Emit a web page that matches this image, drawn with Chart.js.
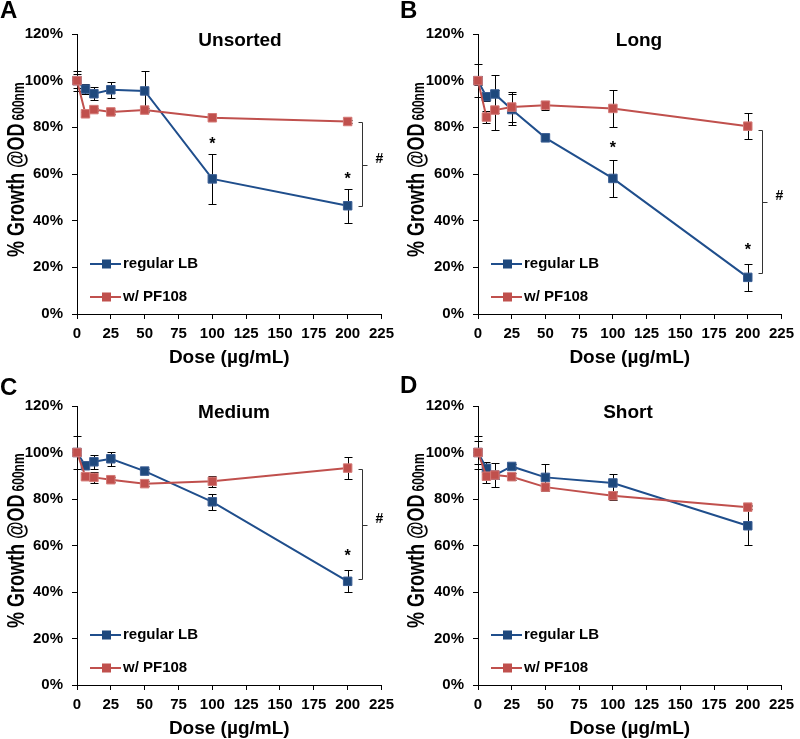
<!DOCTYPE html>
<html>
<head>
<meta charset="utf-8">
<script src="https://cdn.jsdelivr.net/npm/chart.js@4/dist/chart.umd.min.js"></script>
<style>
body { margin: 0; background: #fff; }
#wrap { position: relative; width: 800px; height: 739px; }
canvas { position: absolute; }
</style>
</head>
<body>
<div id="wrap">
<canvas id="cA" width="400" height="370" style="left:0;top:0"></canvas>
<canvas id="cB" width="400" height="370" style="left:400px;top:0"></canvas>
<canvas id="cC" width="400" height="369" style="left:0;top:370px"></canvas>
<canvas id="cD" width="400" height="369" style="left:400px;top:370px"></canvas>
</div>
<script>
// dose axis (ug/mL) shared by all panels
var doses = [0, 6.25, 12.5, 25, 50, 100, 200];
var xTicks = [0, 25, 50, 75, 100, 125, 150, 175, 200, 225];
var yTicks = [0, 20, 40, 60, 80, 100, 120];

// A - Unsorted
var lbA    = [100, 96.4, 94.4, 96.1, 95.6, 57.9, 46.4];
var lbErrA = [4.3, 2.3, 2.7, 3.4, 8.4, 10.6, 7.3];
var pfA    = [100, 85.8, 87.6, 86.6, 87.4, 84.1, 82.5];
var pfErrA = [3, 0.8, 0.8, 0.8, 0.8, 0.8, 0.8];
var starsA = [[100, 74.7], [200, 59.7]];
var bracketA = [82.5, 46.4];

// B - Long
var lbB    = [100, 93.1, 94.3, 87.6, 75.5, 58.1, 15.7];
var lbErrB = [7, 2, 8, 6.5, 1.5, 8, 5.7];
var pfB    = [100, 84.4, 87.4, 88.7, 89.5, 88.1, 80.5];
var pfErrB = [2, 2.5, 8.4, 6.5, 2, 8.1, 5.7];
var starsB = [[100, 73], [200, 29]];
var bracketB = [78.9, 17.4];

// C - Medium
var lbC    = [100, 94.3, 96, 97.3, 92, 78.8, 44.6];
var lbErrC = [7, 1.5, 3, 3, 1, 3.5, 4.7];
var pfC    = [100, 89.6, 89.3, 88.3, 86.6, 87.6, 93.3];
var pfErrC = [1, 1, 2.5, 1, 1, 2.5, 4.6];
var starsC = [[200, 57.4]];
var bracketC = [93, 45.5];

// D - Short
var lbD    = [100, 93.2, 90.3, 94, 89.3, 86.9, 68.5];
var lbErrD = [7, 2.5, 5, 1, 5.8, 4, 8.3];
var pfD    = [100, 89.8, 90.3, 89.6, 85.1, 81.4, 76.5];
var pfErrD = [5, 3, 1.5, 1.5, 1, 2, 1];
var starsD = [];
var bracketD = null;

var BLUE = "#1F4E8C";
var RED = "#C0504D";
var FONT = "'Liberation Sans', Arial, sans-serif";

function pts(vals) {
    return doses.map(function (d, i) { return { x: d, y: vals[i] }; });
}

function decoPlugin(p) {
    return {
        id: "deco",
        beforeDatasetsDraw: function (chart) {
            var ctx = chart.ctx, xs = chart.scales.x, ys = chart.scales.y;
            ctx.save();
            ctx.strokeStyle = "#000";
            ctx.lineWidth = 1;
            [[p.lb, p.lbErr], [p.pf, p.pfErr]].forEach(function (s) {
                doses.forEach(function (d, i) {
                    var x = Math.round(xs.getPixelForValue(d)) + 0.5;
                    var y1 = Math.round(ys.getPixelForValue(s[0][i] + s[1][i])) + 0.5;
                    var y2 = Math.round(ys.getPixelForValue(s[0][i] - s[1][i])) + 0.5;
                    ctx.beginPath();
                    ctx.moveTo(x, y1); ctx.lineTo(x, y2);
                    ctx.moveTo(x - 4, y1); ctx.lineTo(x + 4, y1);
                    ctx.moveTo(x - 4, y2); ctx.lineTo(x + 4, y2);
                    ctx.stroke();
                });
            });
            ctx.restore();
        },
        afterDraw: function (chart) {
            var ctx = chart.ctx, xs = chart.scales.x, ys = chart.scales.y;
            var a = chart.chartArea;
            ctx.save();
            ctx.fillStyle = "#000";

            // panel letter
            ctx.font = "bold 24px " + FONT;
            ctx.textAlign = "left";
            ctx.textBaseline = "alphabetic";
            ctx.fillText(p.letter, 0, p.letterY);

            // panel title
            ctx.font = "bold 19px " + FONT;
            ctx.textAlign = "center";
            ctx.fillText(p.title, p.titleX, a.top + 12);

            // x axis title
            ctx.font = "bold 19px " + FONT;
            ctx.fillText("Dose (\u00b5g/mL)", (a.left + a.right) / 2, a.bottom + 49);

            // y axis title with subscript (glyphs a bit taller, as in the source)
            ctx.save();
            ctx.translate(24, a.bottom - 57);
            ctx.scale(1.35, 1);
            ctx.rotate(-Math.PI / 2);
            ctx.textAlign = "left";
            ctx.font = "bold 18px " + FONT;
            var main = "% Growth @OD";
            ctx.fillText(main, 0, 0);
            var w = ctx.measureText(main).width;
            ctx.font = "bold 12px " + FONT;
            ctx.fillText("600nm", w + 3, 0);
            ctx.restore();

            // legend
            var items = [["regular LB", BLUE, "#1F497D", 50], ["w/ PF108", RED, "#C0504D", 17]];
            items.forEach(function (it) {
                var y = a.bottom - it[3];
                ctx.strokeStyle = it[1];
                ctx.lineWidth = 2;
                ctx.beginPath();
                ctx.moveTo(a.left + 13, y); ctx.lineTo(a.left + 44, y);
                ctx.stroke();
                ctx.fillStyle = it[2];
                ctx.fillRect(a.left + 25, y - 4.5, 9, 9);
                ctx.fillStyle = "#000";
                ctx.font = "bold 15px " + FONT;
                ctx.textAlign = "left";
                ctx.textBaseline = "middle";
                ctx.fillText(it[0], a.left + 46, y);
            });

            // significance stars
            ctx.textAlign = "center";
            ctx.textBaseline = "alphabetic";
            ctx.font = "bold 16px " + FONT;
            p.stars.forEach(function (s) {
                ctx.fillText("*", xs.getPixelForValue(s[0]), ys.getPixelForValue(s[1]) + 9);
            });

            // bracket with #
            if (p.bracket) {
                var bx = Math.round(xs.getPixelForValue(210.5)) + 0.5;
                var yt = Math.round(ys.getPixelForValue(p.bracket[0])) + 0.5;
                var yb = Math.round(ys.getPixelForValue(p.bracket[1])) + 0.5;
                var ym = Math.round((yt + yb) / 2) + 0.5;
                ctx.strokeStyle = "#333";
                ctx.lineWidth = 1;
                ctx.beginPath();
                ctx.moveTo(bx - 4, yt); ctx.lineTo(bx, yt); ctx.lineTo(bx, yb); ctx.lineTo(bx - 4, yb);
                ctx.moveTo(bx, ym); ctx.lineTo(bx + 5, ym);
                ctx.stroke();
                ctx.font = "bold 14px " + FONT;
                ctx.textAlign = "center";
                ctx.fillText("#", bx + 17, ym - 3);
            }
            ctx.restore();
        }
    };
}

function makePanel(id, p) {
    var canvas = document.getElementById(id);
    var H = canvas.height;
    return new Chart(canvas, {
        type: "line",
        data: {
            datasets: [{
                label: "regular LB",
                data: pts(p.lb),
                order: 1,
                borderColor: BLUE,
                borderWidth: 2,
                backgroundColor: "#1F497D",
                pointStyle: "rect",
                pointRadius: 6,
                pointBorderWidth: 1,
                pointBorderColor: "#3B5E94",
                pointBackgroundColor: "#1F497D",
                tension: 0,
                clip: false
            }, {
                label: "w/ PF108",
                data: pts(p.pf),
                order: 0,
                borderColor: RED,
                borderWidth: 2,
                backgroundColor: RED,
                pointStyle: "rect",
                pointRadius: 6,
                pointBorderWidth: 1,
                pointBorderColor: "#D47A77",
                pointBackgroundColor: RED,
                tension: 0,
                clip: false
            }]
        },
        options: {
            responsive: false,
            animation: false,
            layout: {
                padding: { left: 0, right: 400 - p.right, top: p.top, bottom: 0 }
            },
            plugins: {
                legend: { display: false },
                tooltip: { enabled: false }
            },
            scales: {
                x: {
                    type: "linear",
                    min: 0,
                    max: 225,
                    afterFit: function (s) { s.height = H - p.bottom; },
                    afterBuildTicks: function (s) { s.ticks = xTicks.map(function (v) { return { value: v }; }); },
                    grid: { display: true, drawOnChartArea: false, drawTicks: true, tickLength: 5, color: "#000" },
                    border: { display: true, color: "#000", width: 1 },
                    ticks: {
                        autoSkip: false,
                        maxRotation: 0,
                        padding: 6,
                        color: "#000",
                        font: { size: 15, weight: "bold", family: FONT }
                    }
                },
                y: {
                    min: 0,
                    max: 120,
                    afterFit: function (s) { s.width = p.left; },
                    afterBuildTicks: function (s) { s.ticks = yTicks.map(function (v) { return { value: v }; }); },
                    grid: { display: true, drawOnChartArea: false, drawTicks: true, tickLength: 5, color: "#000" },
                    border: { display: true, color: "#000", width: 1 },
                    ticks: {
                        padding: 9,
                        color: "#000",
                        font: { size: 15, weight: "bold", family: FONT },
                        callback: function (v) { return v + "%"; }
                    }
                }
            }
        },
        plugins: [decoPlugin(p)]
    });
}

makePanel("cA", { lb: lbA, lbErr: lbErrA, pf: pfA, pfErr: pfErrA, stars: starsA, bracket: bracketA,
    title: "Unsorted", titleX: 240, letter: "A", letterY: 18, left: 77, right: 386, top: 34, bottom: 314 });
makePanel("cB", { lb: lbB, lbErr: lbErrB, pf: pfB, pfErr: pfErrB, stars: starsB, bracket: bracketB,
    title: "Long", titleX: 239, letter: "B", letterY: 18, left: 78, right: 387, top: 34, bottom: 314 });
makePanel("cC", { lb: lbC, lbErr: lbErrC, pf: pfC, pfErr: pfErrC, stars: starsC, bracket: bracketC,
    title: "Medium", titleX: 234, letter: "C", letterY: 25, left: 77, right: 386, top: 36, bottom: 315 });
makePanel("cD", { lb: lbD, lbErr: lbErrD, pf: pfD, pfErr: pfErrD, stars: starsD, bracket: bracketD,
    title: "Short", titleX: 228, letter: "D", letterY: 23, left: 78, right: 387, top: 36, bottom: 315 });
</script>
</body>
</html>
